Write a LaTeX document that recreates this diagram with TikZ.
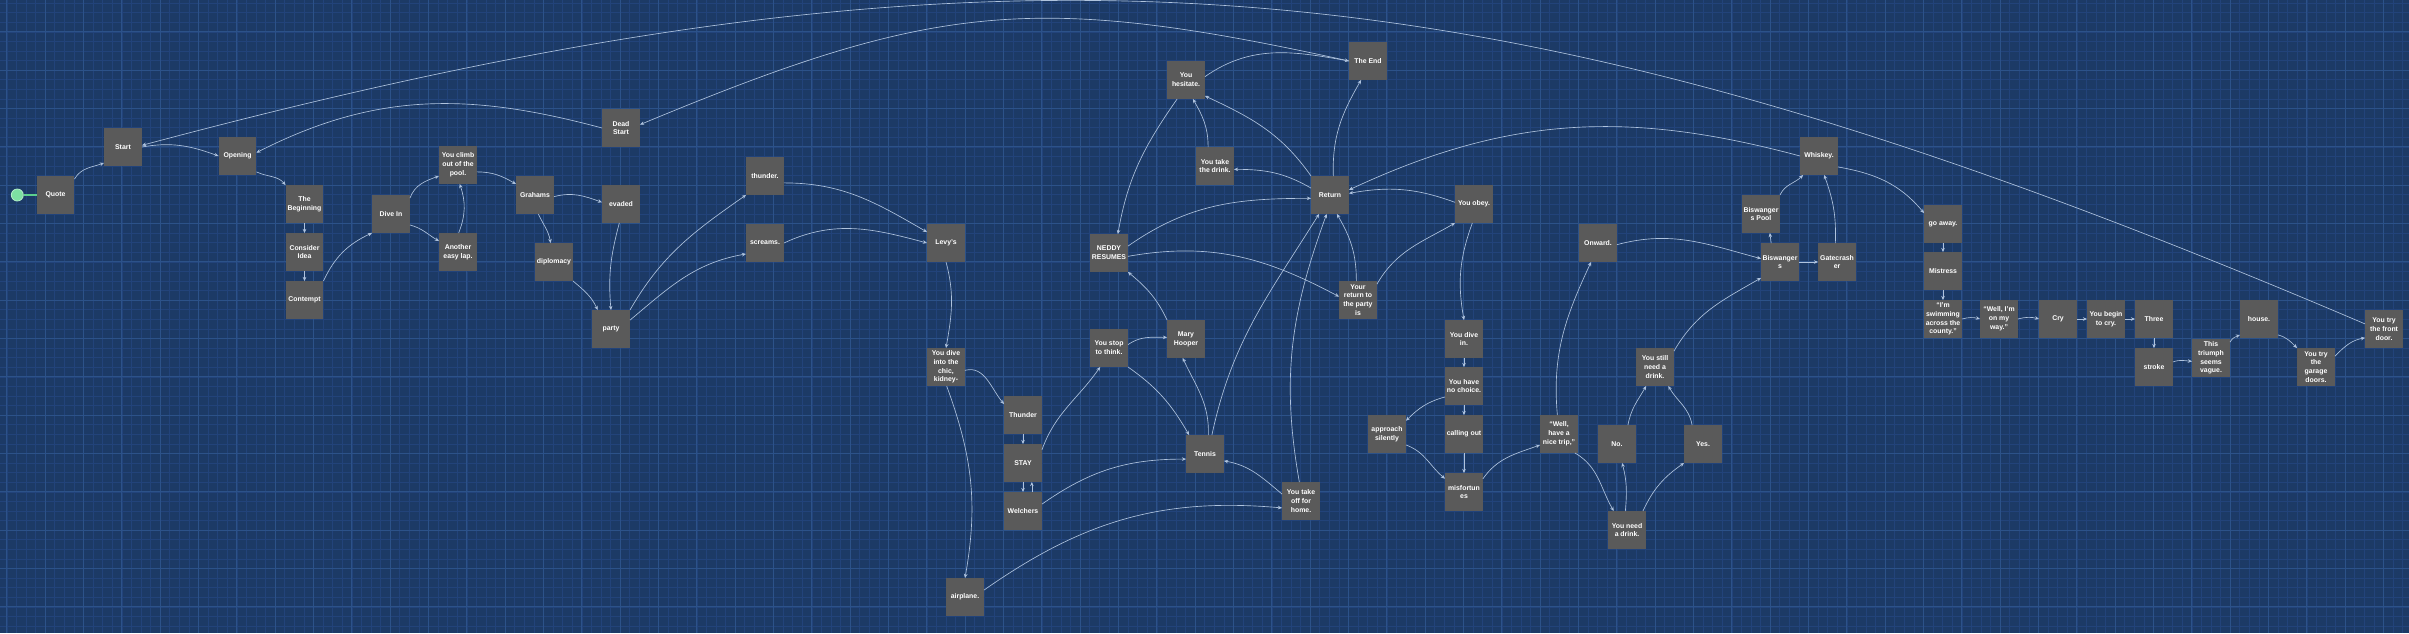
\documentclass[tikz,border=0pt]{standalone}
\usepackage{fontspec}
\setmainfont{Liberation Sans}
\usetikzlibrary{arrows.meta}
\definecolor{bg}{HTML}{1C3A66}
\definecolor{gridminor}{HTML}{22437A}
\definecolor{gridmajor}{HTML}{2C5289}
\definecolor{nodegray}{HTML}{5A5A5A}
\definecolor{edgec}{HTML}{AFC3DE}
\definecolor{startgreen}{HTML}{7DE0A2}
\definecolor{linegreen}{HTML}{5CCF8E}
\begin{document}
\begin{tikzpicture}[x=1pt,y=1pt,
  nbox/.style={fill=nodegray, minimum width=37.5pt, minimum height=37.5pt, inner sep=0pt, text=white, font=\bfseries\fontsize{6.9}{8.8}\selectfont, align=center},
  lnk/.style={draw=edgec, line width=0.65pt, -{Stealth[length=4.2pt,width=3.6pt]}},
  greenline/.style={draw=linegreen, line width=1.6pt}]
\useasboundingbox (0,0) rectangle (2409,-633);
\clip (0,0) rectangle (2409,-633);
\fill[bg] (0,0) rectangle (2409,-633);
\foreach \i in {0,...,252} {\draw[gridminor, line width=0.4pt] ({-2.88+\i*9.5833},0) -- ++(0,-633);}
\foreach \i in {0,...,66} {\draw[gridminor, line width=0.4pt] (0,{-2.95-\i*9.5833}) -- ++(2409,0);}
\foreach \i in {0,...,62} {\draw[gridmajor, line width=0.6pt] ({6.7+\i*38.333},0) -- ++(0,-633);}
\foreach \i in {0,...,15} {\draw[gridmajor, line width=0.6pt] (0,{-31.7-\i*38.333}) -- ++(2409,0);}

\node[circle, fill=startgreen, draw=startgreen!60!white, line width=0.8pt, minimum size=12pt, inner sep=0pt] (init) at (17.3,-195) {};
\node[nbox] (quote) at (55.5,-195) {Quote};
\node[nbox] (start) at (123,-147) {Start};
\node[nbox] (opening) at (237.5,-156) {Opening};
\node[nbox] (begin) at (304.5,-204) {The\\Beginning};
\node[nbox] (consider) at (304.5,-252) {Consider\\Idea};
\node[nbox] (contempt) at (304.5,-300) {Contempt};
\node[nbox] (divein) at (391,-214) {Dive In};
\node[nbox] (climb) at (458,-165) {You climb\\out of the\\pool.};
\node[nbox] (lap) at (458,-252) {Another\\easy lap.};
\node[nbox] (grahams) at (535,-195) {Grahams};
\node[nbox] (diplomacy) at (554,-262) {diplomacy};
\node[nbox] (evaded) at (621,-204) {evaded};
\node[nbox] (deadstart) at (621,-128) {Dead\\Start};
\node[nbox] (party) at (611,-329) {party};
\node[nbox] (thunderdot) at (765,-176) {thunder.};
\node[nbox] (screams) at (765,-243) {screams.};
\node[nbox] (levys) at (946,-243) {Levy's};
\node[nbox] (chic) at (946,-367) {You dive\\into the\\chic,\\kidney-};
\node[nbox] (thunder) at (1023,-415) {Thunder};
\node[nbox] (stay) at (1023,-463) {STAY};
\node[nbox] (welchers) at (1023,-511) {Welchers};
\node[nbox] (airplane) at (965,-597) {airplane.};
\node[nbox] (stop) at (1109,-348) {You stop\\to think.};
\node[nbox] (mary) at (1186,-339) {Mary\\Hooper};
\node[nbox] (tennis) at (1205,-454) {Tennis};
\node[nbox] (neddy) at (1109,-253) {NEDDY\\RESUMES};
\node[nbox] (hesitate) at (1186,-80) {You\\hesitate.};
\node[nbox] (drink) at (1215,-166) {You take\\the drink.};
\node[nbox] (theend) at (1368,-61) {The End};
\node[nbox] (return) at (1330,-195) {Return};
\node[nbox] (yourreturn) at (1358,-300) {Your\\return to\\the party\\is};
\node[nbox] (obey) at (1474,-204) {You obey.};
\node[nbox] (home) at (1301,-501) {You take\\off for\\home.};
\node[nbox] (divein2) at (1464,-339) {You dive\\in.};
\node[nbox] (nochoice) at (1464,-386) {You have\\no choice.};
\node[nbox] (approach) at (1387,-434) {approach\\silently};
\node[nbox] (calling) at (1464,-434) {calling out};
\node[nbox] (misfortunes) at (1464,-492) {misfortun\\es};
\node[nbox] (nicetrip) at (1559,-434) {“Well,\\have a\\nice trip,”};
\node[nbox] (onward) at (1598,-243) {Onward.};
\node[nbox] (no) at (1617,-444) {No.};
\node[nbox] (yes) at (1703,-444) {Yes.};
\node[nbox] (still) at (1655,-367) {You still\\need a\\drink.};
\node[nbox] (need) at (1627,-530) {You need\\a drink.};
\node[nbox] (pool) at (1761,-214) {Biswanger\\s Pool};
\node[nbox] (biswangers) at (1780,-262) {Biswanger\\s};
\node[nbox] (gatecrasher) at (1837,-262) {Gatecrash\\er};
\node[nbox] (whiskey) at (1819,-156) {Whiskey.};
\node[nbox] (goaway) at (1943,-224) {go away.};
\node[nbox] (mistress) at (1943,-271) {Mistress};
\node[nbox] (swimming) at (1943,-319) {“I'm\\swimming\\across the\\county.”};
\node[nbox] (onmyway) at (1999,-319) {“Well, I'm\\on my\\way.”};
\node[nbox] (cry) at (2058,-319) {Cry};
\node[nbox] (begincry) at (2106,-319) {You begin\\to cry.};
\node[nbox] (three) at (2154,-319) {Three};
\node[nbox] (stroke) at (2154,-367) {stroke};
\node[nbox] (triumph) at (2211,-358) {This\\triumph\\seems\\vague.};
\node[nbox] (house) at (2259,-319) {house.};
\node[nbox] (garage) at (2316,-367) {You try\\the\\garage\\doors.};
\node[nbox] (front) at (2384,-329) {You try\\the front\\door.};

\draw[greenline] (init) -- (quote);
\draw[lnk] (quote.40) to[out=60,in=200] (start.220);
\draw[lnk] (start.0) to[out=10,in=160] (opening.180);
\draw[lnk] (front.165) .. controls (1514,38.75) and (1036,93.6) .. (start.5);
\draw[lnk] (deadstart.180) to[out=165,in=27] (opening.10);
\draw[lnk] (theend.180) .. controls (1035,8) and (935,-2) .. (deadstart.10);
\draw[lnk] (opening.-40) to[out=-25,in=130] (begin.135);
\draw[lnk] (begin) -- (consider);
\draw[lnk] (consider) -- (contempt);
\draw[lnk] (contempt.45) to[out=65,in=205] (divein.225);
\draw[lnk] (divein.40) to[out=70,in=200] (climb.210);
\draw[lnk] (divein.-30) to[out=-15,in=150] (lap.150);
\draw[lnk] (lap.88) to[bend right=20] (climb.-85);
\draw[lnk] (climb.-20) to[out=0,in=150] (grahams.150);
\draw[lnk] (grahams.-5) to[out=15,in=160] (evaded.175);
\draw[lnk] (grahams.-80) to[out=-65,in=100] (diplomacy.100);
\draw[lnk] (diplomacy.-45) to[out=-40,in=115] (party.125);
\draw[lnk] (evaded.-95) to[out=-105,in=95] (party.90);
\draw[lnk] (party.north east) to[out=60,in=215] (thunderdot.225);
\draw[lnk] (party.25) to[out=40,in=190] (screams.210);
\draw[lnk] (thunderdot.-20) to[out=0,in=150] (levys.150);
\draw[lnk] (screams.0) to[out=25,in=165] (levys.180);
\draw[lnk] (levys.-90) to[out=-75,in=80] (chic.90);
\draw[lnk] (chic.-10) to[out=15,in=130] (thunder.150);
\draw[lnk] (chic.-88) to[out=-70,in=80] (airplane.90);
\draw[lnk] (thunder) -- (stay);
\draw[lnk] (stay.south) -- (welchers.north);
\draw[lnk] (welchers.65) -- (stay.-65);
\draw[lnk] (stay.35) to[out=70,in=235] (stop.245);
\draw[lnk] (welchers.20) to[out=35,in=180] (tennis.195);
\draw[lnk] (airplane.20) to[out=35,in=175] (home.200);
\draw[lnk] (stop.10) to[out=35,in=180] (mary.175);
\draw[lnk] (stop.-45) to[out=-35,in=120] (tennis.130);
\draw[lnk] (tennis.80) to[out=88,in=-65] (mary.-100);
\draw[lnk] (mary.135) to[out=115,in=-40] (neddy.-45);
\draw[lnk] (tennis.70) to[out=78,in=-122] (return.-120);
\draw[lnk] (home.95) to[out=100,in=-110] (return.-100);
\draw[lnk] (home.160) to[out=140,in=-10] (tennis.-20);
\draw[lnk] (return.80) to[out=92,in=-120] (theend.-110);
\draw[lnk] (return.135) to[out=125,in=-25] (hesitate.-40);
\draw[lnk] (return.160) to[out=150,in=0] (drink.-10);
\draw[lnk] (drink.110) to[out=90,in=-60] (hesitate.-70);
\draw[lnk] (hesitate.-115) to[out=-125,in=80] (neddy.65);
\draw[lnk] (hesitate.10) to[out=35,in=170] (theend.180);
\draw[lnk] (neddy.20) to[out=35,in=180] (return.190);
\draw[lnk] (neddy.-10) to[out=10,in=152] (yourreturn.170);
\draw[lnk] (yourreturn.95) to[out=90,in=-60] (return.-70);
\draw[lnk] (yourreturn.40) to[out=60,in=210] (obey.-135);
\draw[lnk] (obey.175) to[out=160,in=10] (return.5);
\draw[lnk] (whiskey.180) to[out=165,in=25] (return.15);
\draw[lnk] (obey.-95) to[out=-110,in=100] (divein2.90);
\draw[lnk] (divein2) -- (nochoice);
\draw[lnk] (nochoice) -- (calling);
\draw[lnk] (calling) -- (misfortunes);
\draw[lnk] (nochoice.210) to[out=195,in=45] (approach.35);
\draw[lnk] (approach.-30) to[out=-20,in=140] (misfortunes.145);
\draw[lnk] (misfortunes.35) to[out=55,in=200] (nicetrip.-150);
\draw[lnk] (nicetrip.95) to[out=95,in=-115] (onward.-110);
\draw[lnk] (nicetrip.-50) to[out=-30,in=120] (need.125);
\draw[lnk] (need.95) to[out=85,in=-75] (no.-75);
\draw[lnk] (need.50) to[out=65,in=215] (yes.-135);
\draw[lnk] (no.60) to[out=80,in=-120] (still.-115);
\draw[lnk] (yes.120) to[out=100,in=-60] (still.-55);
\draw[lnk] (still.40) to[out=60,in=210] (biswangers.220);
\draw[lnk] (onward.-5) to[out=15,in=165] (biswangers.170);
\draw[lnk] (biswangers.115) -- (pool.-65);
\draw[lnk] (biswangers.east) -- (gatecrasher.west);
\draw[lnk] (pool.45) to[out=65,in=225] (whiskey.-130);
\draw[lnk] (gatecrasher.95) to[out=88,in=-70] (whiskey.-75);
\draw[lnk] (whiskey.-30) to[out=-10,in=130] (goaway.150);
\draw[lnk] (goaway) -- (mistress);
\draw[lnk] (mistress) -- (swimming);
\draw[lnk] (swimming.east) to[out=15,in=165] (onmyway.west);
\draw[lnk] (onmyway.east) to[out=15,in=165] (cry.west);
\draw[lnk] (cry) -- (begincry);
\draw[lnk] (begincry) -- (three);
\draw[lnk] (three) -- (stroke);
\draw[lnk] (stroke.15) to[out=20,in=175] (triumph.190);
\draw[lnk] (triumph.40) to[out=60,in=200] (house.-140);
\draw[lnk] (house.-40) to[out=-15,in=135] (garage.135);
\draw[lnk] (garage.30) to[out=45,in=190] (front.-155);
\end{tikzpicture}
\end{document}
